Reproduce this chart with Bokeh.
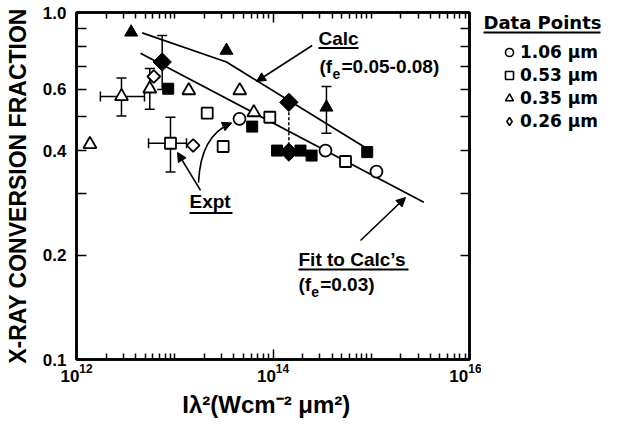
from bokeh.plotting import figure
from bokeh.layouts import row
from bokeh.models import (ColumnDataSource, Range1d, LogAxis, FixedTicker, Whisker, TeeHead,
                          Arrow, NormalHead, Legend, LegendItem, Label, BoxAnnotation)
from bokeh.core.properties import value
from bokeh.embed import file_html
from bokeh.resources import INLINE

# ---------------- data ----------------
# Experimental points (open symbols)
x_106 = [4.56e13, 3.42e14, 1.13e15]
y_106 = [0.494, 0.400, 0.348]
x_053 = [9.05e12, 2.14e13, 3.11e13, 9.28e13, 5.47e14]
y_053 = [0.420, 0.513, 0.411, 0.499, 0.372]
x_035 = [1.37e12, 2.87e12, 5.57e12, 1.39e13, 4.59e13, 6.38e13]
y_035 = [0.417, 0.573, 0.603, 0.596, 0.596, 0.515]
x_026 = [6.12e12, 1.54e13]
y_026 = [0.654, 0.414]
# Calculated points (filled symbols)
xc_053 = [8.58e12, 6.14e13, 1.10e14, 1.905e14, 2.47e14, 9.10e14]
yc_053 = [0.603, 0.469, 0.400, 0.400, 0.387, 0.396]
xc_035 = [3.60e12, 3.36e13, 3.50e14]
yc_035 = [0.877, 0.777, 0.533]
xc_026 = [7.45e12, 1.45e14, 1.45e14]
yc_026 = [0.720, 0.551, 0.396]
# Vertical error bars
yerr_x = [2.87e12, 5.57e12, 9.05e12, 7.45e12, 3.50e14]
yerr_lo = [0.503, 0.526, 0.347, 0.600, 0.449]
yerr_hi = [0.648, 0.690, 0.499, 0.859, 0.612]
# Horizontal error bars
xerr_y = [0.573, 0.420]
xerr_lo = [1.75e12, 5.41e12]
xerr_hi = [4.92e12, 1.317e13]
# Curves
calc_x = [4.66e12, 3.36e13, 9.10e14]
calc_y = [0.874, 0.720, 0.405]
fit_x = [4.48e12, 3.43e15]
fit_y = [0.763, 0.284]
# Ticks
x_major = [1e12, 1e14, 1e16]
x_minor = [k * 10.0 ** n for n in range(12, 16) for k in range(1, 10) if 10.0 ** n * k not in (1e12, 1e14)]
y_major = [0.1, 0.2, 0.4, 0.6, 1.0]
y_labels = ["0.1", "0.2", "0.4", "0.6", "1.0"]
y_minor = [0.3, 0.5, 0.7, 0.8, 0.9]
legend_title = "Data Points"
legend_labels = ["1.06 μm", "0.53 μm", "0.35 μm", "0.26 μm"]

FONT = "Liberation Sans"
LFONT = "DejaVu Sans"

p = figure(width=481, height=433, x_axis_type="log", y_axis_type="log",
           x_range=Range1d(1e12, 1e16), y_range=Range1d(0.1, 1.0),
           output_backend="svg", toolbar_location=None,
           min_border_left=76, min_border_right=12, min_border_top=12, min_border_bottom=74)
p.grid.visible = False
p.outline_line_color = "black"
p.outline_line_width = 2.5
p.background_fill_color = "white"
p.border_fill_color = "white"

xt = FixedTicker(ticks=x_major, minor_ticks=x_minor)
yt = FixedTicker(ticks=y_major, minor_ticks=y_minor)

xa = p.xaxis[0]
xa.ticker = xt
xa.axis_label = "Iλ²(Wcm⁻²   μm²)"
ya = p.yaxis[0]
ya.ticker = yt
ya.major_label_overrides = {v: s for v, s in zip(y_major, y_labels)}
ya.axis_label = "X-RAY CONVERSION FRACTION"

for ax in (xa, ya):
    ax.major_label_text_font = FONT
    ax.major_label_text_font_style = "bold"
    ax.major_label_text_font_size = "17px"
    ax.major_label_text_color = "black"
    ax.axis_label_text_font = FONT
    ax.axis_label_text_font_style = "bold"
    ax.axis_label_text_color = "black"
    ax.axis_line_width = 2.5
    ax.major_tick_out = 0
    ax.minor_tick_out = 0
    ax.major_tick_line_width = 1.5
    ax.minor_tick_line_width = 1.5
xa.major_tick_in = 10
xa.minor_tick_in = 6
xa.major_label_standoff = 4
xa.axis_label_text_font_size = "24px"
xa.axis_label_standoff = 6
ya.major_tick_in = 10
ya.minor_tick_in = 10
ya.major_label_standoff = 10
ya.axis_label_text_font_size = "23px"
ya.axis_label_standoff = 9

top = LogAxis(ticker=xt, major_label_text_font_size="6px", major_label_text_color=None,
              major_label_standoff=0,
              major_tick_in=10, major_tick_out=0, minor_tick_in=6, minor_tick_out=0,
              axis_line_width=2.5, major_tick_line_width=1.5, minor_tick_line_width=1.5)
right = LogAxis(ticker=yt, major_label_text_font_size="6px", major_label_text_color=None,
                major_label_standoff=0,
                major_tick_in=9, major_tick_out=0, minor_tick_in=9, minor_tick_out=0,
                axis_line_width=2.5, major_tick_line_width=1.5, minor_tick_line_width=1.5)
p.add_layout(top, "above")
p.add_layout(right, "right")

# error bars (drawn under the markers)
ysrc = ColumnDataSource(dict(base=yerr_x, lower=yerr_lo, upper=yerr_hi))
xsrc = ColumnDataSource(dict(base=xerr_y, lower=xerr_lo, upper=xerr_hi))
for src, dim in ((ysrc, "height"), (xsrc, "width")):
    p.add_layout(Whisker(source=src, base="base", lower="lower", upper="upper", dimension=dim,
                         line_color="black", line_width=1.5, level="underlay",
                         lower_head=TeeHead(size=10, line_width=1.5, line_color="black"),
                         upper_head=TeeHead(size=10, line_width=1.5, line_color="black")))

# curves
p.line(calc_x, calc_y, line_color="black", line_width=1.8)
p.line(fit_x, fit_y, line_color="black", line_width=1.8)
p.line([xc_026[1], xc_026[2]], [yc_026[1], yc_026[2]], line_color="black", line_width=1.5,
       line_dash="3 2")

# calculated (filled) markers
p.scatter(xc_053, yc_053, marker="square", size=11, fill_color="black", line_color="black")
p.scatter(xc_035, yc_035, marker="triangle", size=13, fill_color="black", line_color="black")
p.scatter(xc_026, yc_026, marker="square", angle=0.785398, size=13, fill_color="black",
          line_color="black")

# experimental (open) markers
ow = dict(fill_color="white", line_color="black", line_width=1.8)
MARKS = [("circle", 12, 0.0), ("square", 11, 0.0), ("triangle", 13, 0.0), ("square", 9, 0.785398)]
for (m, s, a), xs, ys in zip(MARKS, [x_106, x_053, x_035, x_026], [y_106, y_053, y_035, y_026]):
    p.scatter(xs, ys, marker=m, size=s, angle=a, **ow)

# annotations
tx = dict(text_font=value(FONT), text_font_style="bold", text_color="black",
          text_baseline="alphabetic", text_align="left")
p.text(x=[2.905e14, 2.974e14, 4.98e14, 1.413e13, 1.818e14, 1.818e14, 3.02e14],
       y=[0.842, 0.699, 0.699, 0.2853, 0.1936, 0.1646, 0.1646],
       text=["Calc", "(f", "=0.05-0.08)", "Expt", "Fit to Calc’s", "(f", "=0.03)"],
       text_font_size="19px", **tx)
p.text(x=[4.03e14, 2.448e14], y=[0.667, 0.157], text=["e", "e"], text_font_size="14px", **tx)
p.segment(x0=[2.905e14, 1.413e13, 1.818e14], y0=[0.790, 0.2644, 0.1817],
          x1=[7.42e14, 3.87e13, 2.394e15], y1=[0.790, 0.2644, 0.1817],
          line_color="black", line_width=2)

head = dict(size=9, fill_color="black", line_color="black", line_width=1)
p.add_layout(Arrow(end=NormalHead(**head), x_start=2.506e14, y_start=0.8034,
                   x_end=6.79e13, y_end=0.6325, line_width=1.6))
p.add_layout(Arrow(end=NormalHead(**head), x_start=1.829e13, y_start=0.3073,
                   x_end=1.067e13, y_end=0.395, line_width=1.6))
p.add_layout(Arrow(end=NormalHead(**head), x_start=7.78e14, y_start=0.2203,
                   x_end=2.232e15, y_end=0.2930, line_width=1.6))
p.quadratic(x0=[1.745e13], y0=[0.3236], x1=[3.782e13], y1=[0.4804], cx=[1.829e13], cy=[0.4423],
            line_color="black", line_width=1.6)
p.add_layout(Arrow(end=NormalHead(**head), x_start=3.316e13, y_start=0.4729,
                   x_end=3.782e13, y_end=0.4804, line_width=1.6))

# ---------------- legend panel (its frame is aligned with the main frame) ----------------
lg = figure(width=137, height=433, x_range=Range1d(0, 1), y_range=Range1d(0, 1),
            output_backend="svg", toolbar_location=None, x_axis_location=None,
            y_axis_location=None, min_border=0, outline_line_color=None)
lg.grid.visible = False
lg.background_fill_color = "white"
lg.border_fill_color = "white"
items = []
nan = float("nan")
LEG_MARKS = ["circle", "square", "triangle", "diamond"]
for m, lab in zip(LEG_MARKS, legend_labels):
    r = lg.scatter(x=[nan], y=[nan], marker=m, size=12, line_width=1.6,
                   fill_color="white", line_color="black")
    items.append(LegendItem(label=lab, renderers=[r]))
lg.add_layout(Label(x=2, y=337, x_units="screen", y_units="screen", text=legend_title,
                    text_font=LFONT, text_font_style="bold", text_font_size="18px",
                    text_baseline="alphabetic", text_color="black"))
lg.add_layout(BoxAnnotation(left=2, right=119, bottom=326, top=328, left_units="screen",
                            right_units="screen", bottom_units="screen", top_units="screen",
                            fill_color="black", fill_alpha=1, line_color=None))
legend = Legend(items=items, location=(18, 228), padding=0, margin=0, spacing=3,
                glyph_width=20, glyph_height=20, label_height=20, label_standoff=1,
                label_text_font=LFONT, label_text_font_style="bold", label_text_font_size="17px",
                label_text_color="black", border_line_color=None, background_fill_alpha=0)
lg.add_layout(legend)

layout = row(p, lg)
open("out.html", "w").write(file_html(layout, INLINE))
